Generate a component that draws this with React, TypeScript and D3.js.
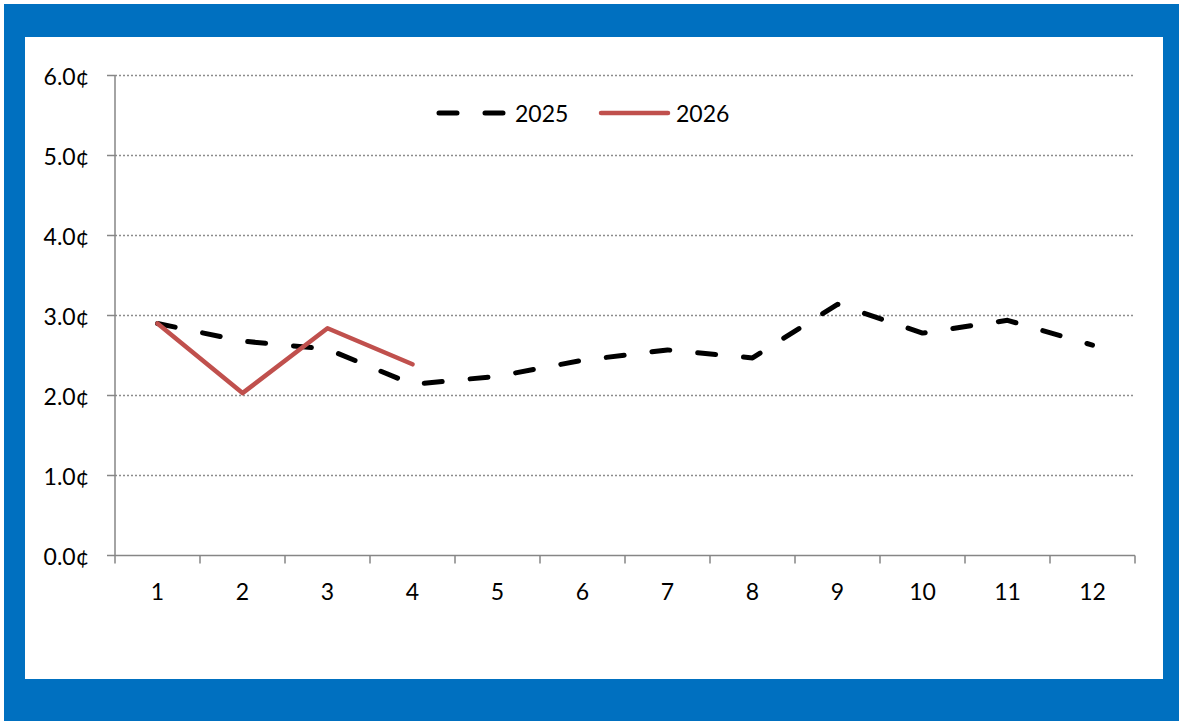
import React from "react";
import * as d3 from "d3";

const months = ["1", "2", "3", "4", "5", "6", "7", "8", "9", "10", "11", "12"];
const series2025 = [2.9, 2.68, 2.58, 2.14, 2.24, 2.44, 2.57, 2.47, 3.14, 2.78, 2.94, 2.63];
const series2026 = [2.9, 2.03, 2.84, 2.39];
const yTicks = [0, 1, 2, 3, 4, 5, 6];
const legendItems = [
  { label: "2025", color: "#000000", dash: "18 28", width: 5 },
  { label: "2026", color: "#C0504D", dash: "", width: 4.5 },
];

const FONT = "Lato, 'Open Sans', sans-serif";

export default function App() {
  const x = d3.scaleBand<string>().domain(months).range([115, 1135]);
  const y = d3.scaleLinear().domain([0, 6]).range([555.5, 75.5]);
  const cx = (m: string) => (x(m) as number) + x.bandwidth() / 2;
  const line = d3
    .line<number>()
    .x((_, i) => cx(months[i]))
    .y((d) => y(d));

  const boundaries = months.map((m) => x(m) as number).concat([x.range()[1]]);

  return (
    <svg
      width={1179}
      height={721}
      style={{ position: "absolute", left: 0, top: 0 }}
      fontFamily={FONT}
    >
      <rect x={0} y={0} width={1179} height={721} fill="#ffffff" />
      <rect x={4} y={4} width={1175} height={717} fill="#0070C0" />
      <rect x={25} y={37} width={1138} height={642} fill="#ffffff" />

      {/* gridlines */}
      {yTicks.slice(1).map((t) => (
        <line
          key={"g" + t}
          x1={115}
          x2={1135}
          y1={y(t)}
          y2={y(t)}
          stroke="#8c8c8c"
          strokeWidth={1.5}
          strokeDasharray="2 2"
        />
      ))}

      {/* y axis */}
      <line x1={115} x2={115} y1={y(6)} y2={y(0)} stroke="#868686" strokeWidth={1.5} />
      {yTicks.map((t) => (
        <g key={"yt" + t}>
          <line x1={107} x2={115} y1={y(t)} y2={y(t)} stroke="#868686" strokeWidth={1.5} />
          <text
            x={89}
            y={y(t)}
            textAnchor="end"
            dominantBaseline="central"
            fontSize={23}
            fill="#000"
          >
            {t.toFixed(1) + "¢"}
          </text>
        </g>
      ))}

      {/* x axis */}
      <line x1={115} x2={1135} y1={y(0)} y2={y(0)} stroke="#868686" strokeWidth={1.5} />
      {boundaries.map((b, i) => (
        <line key={"xt" + i} x1={b} x2={b} y1={y(0)} y2={y(0) + 8} stroke="#868686" strokeWidth={1.5} />
      ))}
      {months.map((m) => (
        <text
          key={"xl" + m}
          x={cx(m)}
          y={591}
          textAnchor="middle"
          dominantBaseline="central"
          fontSize={23}
          fill="#000"
        >
          {m}
        </text>
      ))}

      {/* series */}
      <path
        d={line(series2025) || ""}
        fill="none"
        stroke="#000"
        strokeWidth={5}
        strokeDasharray="18 28"
        strokeLinecap="round"
        strokeLinejoin="round"
      />
      <path
        d={line(series2026) || ""}
        fill="none"
        stroke="#C0504D"
        strokeWidth={4.5}
        strokeLinecap="round"
        strokeLinejoin="round"
      />

      {/* legend */}
      <g>
        <line x1={439} x2={507} y1={113} y2={113} stroke={legendItems[0].color} strokeWidth={legendItems[0].width} strokeDasharray={legendItems[0].dash} strokeLinecap="round" />
        <text x={515} y={113} dominantBaseline="central" fontSize={23} fill="#000">
          {legendItems[0].label}
        </text>
        <line x1={601} x2={668} y1={113} y2={113} stroke={legendItems[1].color} strokeWidth={legendItems[1].width} strokeLinecap="round" />
        <text x={676} y={113} dominantBaseline="central" fontSize={23} fill="#000">
          {legendItems[1].label}
        </text>
      </g>
    </svg>
  );
}
